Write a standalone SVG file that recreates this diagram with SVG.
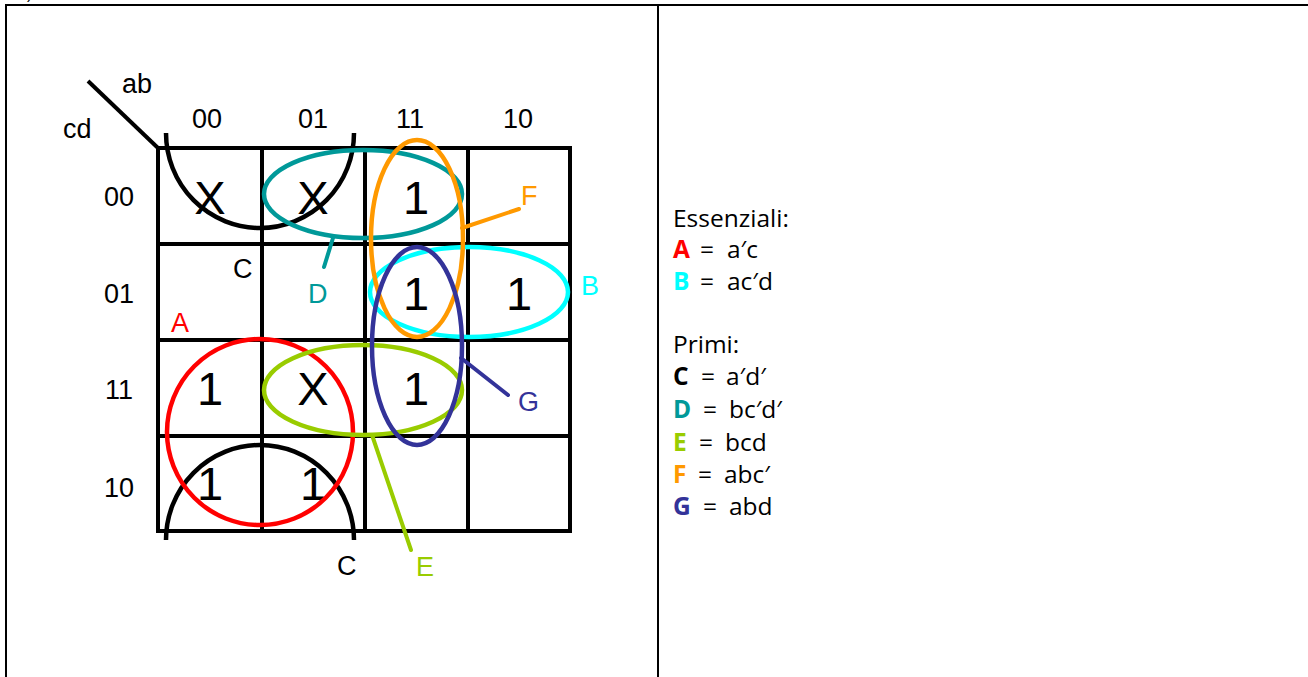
<svg xmlns="http://www.w3.org/2000/svg" width="1308" height="677" viewBox="0 0 1308 677">
<style>
.frame{stroke:#000;stroke-width:2;fill:none}
.grid{stroke:#000;stroke-width:4;fill:none;stroke-linecap:square}
.loop{fill:none;stroke-width:4.5}
.lead{fill:none;stroke-width:4;stroke-linecap:round}
.lbl{font-family:"Liberation Sans",Arial,sans-serif;font-size:27px}
.cell{font-family:"Liberation Sans",Arial,sans-serif;font-size:47px;text-anchor:middle;fill:#000}
.hdr{font-family:"Liberation Sans",Arial,sans-serif;font-size:27px;text-anchor:middle;fill:#000}
.leg{font-family:"Open Sans","DejaVu Sans",sans-serif;font-size:24.5px;fill:#000}
.b{font-weight:bold}
</style>
<rect width="1308" height="677" fill="#fff"/>
<g id="frame">
<line class="frame" x1="5" y1="5" x2="1308" y2="5"/>
<line class="frame" x1="6" y1="5" x2="6" y2="677"/>
<line class="frame" x1="658" y1="5" x2="658" y2="677"/>
<text x="27" y="-1" font-family="Liberation Sans,sans-serif" font-size="16">)</text>
</g>
<g id="kmap-grid">
<rect class="grid" x="158" y="148" width="412" height="383"/>
<line class="grid" x1="262" y1="148" x2="262" y2="531"/>
<line class="grid" x1="365" y1="148" x2="365" y2="531"/>
<line class="grid" x1="468" y1="148" x2="468" y2="531"/>
<line class="grid" x1="158" y1="244" x2="570" y2="244"/>
<line class="grid" x1="158" y1="340" x2="570" y2="340"/>
<line class="grid" x1="158" y1="436" x2="570" y2="436"/>
<line x1="88" y1="81" x2="158" y2="148" stroke="#000" stroke-width="4"/>
</g>
<g id="headers">
<text class="lbl" x="122" y="93">ab</text>
<text class="lbl" x="63" y="138">cd</text>
<text class="hdr" x="207" y="128">00</text>
<text class="hdr" x="313" y="128">01</text>
<text class="hdr" x="410" y="128">11</text>
<text class="hdr" x="518" y="128">10</text>
<text class="hdr" x="119" y="206">00</text>
<text class="hdr" x="119" y="303">01</text>
<text class="hdr" x="119" y="399">11</text>
<text class="hdr" x="119" y="497">10</text>
</g>
<g id="cells">
<text class="cell" x="210" y="214">X</text>
<text class="cell" x="313" y="214">X</text>
<text class="cell" x="416" y="214">1</text>
<text class="cell" x="416" y="310">1</text>
<text class="cell" x="519" y="310">1</text>
<text class="cell" x="210" y="405">1</text>
<text class="cell" x="313" y="405">X</text>
<text class="cell" x="416" y="405">1</text>
<text class="cell" x="210" y="500">1</text>
<text class="cell" x="313" y="500">1</text>
</g>
<g id="implicant-C">
<path class="loop" stroke="#000" d="M166 133 A94 95 0 1 0 354 133"/>
<path class="loop" stroke="#000" d="M166 540 A94 95 0 1 1 354 540"/>
<text class="lbl" x="233" y="278" fill="#000">C</text>
<text class="lbl" x="337" y="575" fill="#000">C</text>
</g>
<g id="implicant-A">
<circle class="loop" stroke="#ff0000" cx="260" cy="432" r="93"/>
<text class="lbl" x="171" y="332" fill="#ff0000">A</text>
</g>
<g id="implicant-D">
<ellipse class="loop" stroke="#009999" cx="363" cy="194" rx="99" ry="44"/>
<text class="lbl" x="308" y="303" fill="#009999">D</text>
</g>
<g id="implicant-B">
<ellipse class="loop" stroke="#00ffff" cx="469" cy="292" rx="99" ry="45"/>
<text class="lbl" x="581" y="295" fill="#00ffff">B</text>
</g>
<g id="implicant-E">
<ellipse class="loop" stroke="#99cc00" cx="363" cy="390" rx="99" ry="45"/>
<text class="lbl" x="416" y="576" fill="#99cc00">E</text>
</g>
<g id="implicant-F">
<ellipse class="loop" stroke="#ff9900" cx="417" cy="238.5" rx="46" ry="98.5"/>
<text class="lbl" x="521" y="205" fill="#ff9900">F</text>
</g>
<g id="implicant-G">
<ellipse class="loop" stroke="#333399" cx="417" cy="346" rx="45" ry="99"/>
<text class="lbl" x="518" y="411" fill="#333399">G</text>
</g>
<g id="connectors">
<line class="lead" stroke="#009999" x1="333" y1="238" x2="324" y2="267"/>
<line class="lead" stroke="#ff9900" x1="462" y1="228" x2="519" y2="209"/>
<line class="lead" stroke="#333399" x1="461" y1="358" x2="508" y2="395"/>
<line class="lead" stroke="#99cc00" x1="372" y1="435" x2="411" y2="550"/>
</g>
<g id="legend">
<text class="leg" x="673" y="227">Essenziali:</text>
<text class="leg" y="258"><tspan class="b" x="673" fill="#ff0000">A</tspan><tspan x="700">=</tspan><tspan x="727">a′c</tspan></text>
<text class="leg" y="290"><tspan class="b" x="673" fill="#00ffff">B</tspan><tspan x="700">=</tspan><tspan x="727">ac′d</tspan></text>
<text class="leg" x="673" y="353">Primi:</text>
<text class="leg" y="385"><tspan class="b" x="673" fill="#000">C</tspan><tspan x="701">=</tspan><tspan x="726">a′d′</tspan></text>
<text class="leg" y="418"><tspan class="b" x="673" fill="#009999">D</tspan><tspan x="703">=</tspan><tspan x="729">bc′d′</tspan></text>
<text class="leg" y="451"><tspan class="b" x="673" fill="#99cc00">E</tspan><tspan x="699">=</tspan><tspan x="725">bcd</tspan></text>
<text class="leg" y="483"><tspan class="b" x="673" fill="#ff9900">F</tspan><tspan x="698">=</tspan><tspan x="724">abc′</tspan></text>
<text class="leg" y="515"><tspan class="b" x="673" fill="#333399">G</tspan><tspan x="703">=</tspan><tspan x="729">abd</tspan></text>
</g>
</svg>
